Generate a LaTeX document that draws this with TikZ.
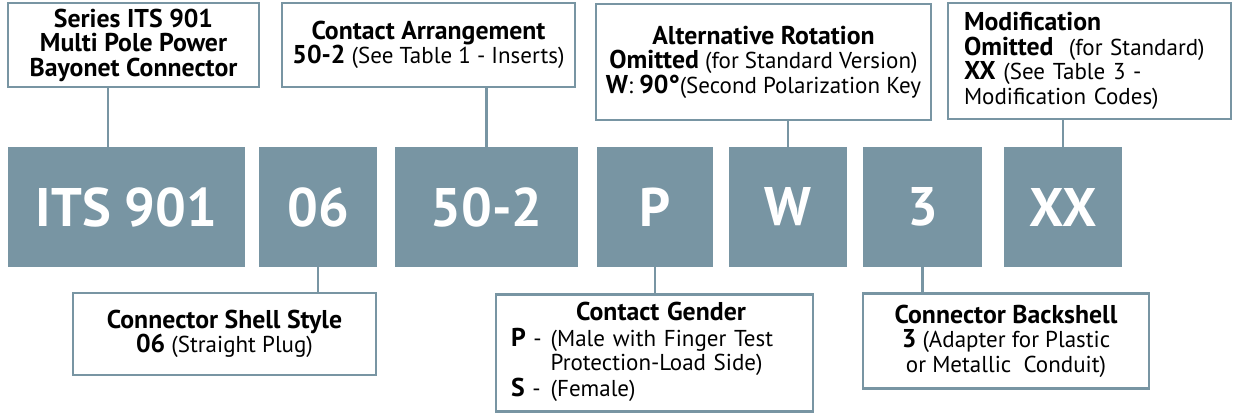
\documentclass[tikz,border=0pt]{standalone}
\usepackage{fontspec}
\setmainfont{PT Sans}[BoldFeatures={Scale=1.12}]
\definecolor{slate}{HTML}{7895A3}
\begin{document}
\begin{tikzpicture}[x=1pt, y=-1pt,
	code/.style={fill=slate, text=white, font=\fontsize{48.5}{52}\selectfont\bfseries, minimum height=120pt, inner sep=0pt},
	label/.style={draw=slate, line width=2.6pt, fill=white, font=\fontsize{23}{24.5}\selectfont, inner sep=0pt, align=center},
	link/.style={draw=slate, line width=2.4pt}]
	\useasboundingbox (0,0) rectangle (1233,413);

	% --- Code ---
	\node[code, minimum width=237pt] (its) at (126.5,207) {ITS 901};
	\node[code, minimum width=118pt] (shell) at (318,207) {06};
	\node[code, minimum width=183pt] (arr) at (486.5,207) {50-2};
	\node[code, minimum width=116pt] (gen) at (655,207) {P};
	\node[code, minimum width=118pt] (rot) at (788,207) {W};
	\node[code, minimum width=119pt] (back) at (922.5,207) {3};
	\node[code, minimum width=118pt] (mod) at (1063,207) {XX};

	% --- Labels above ---
	\node[label, minimum width=251pt, minimum height=84pt] (series) at (133.5,45)
		{\textbf{Series ITS 901}\\ \textbf{Multi Pole Power}\\ \textbf{Bayonet Connector}};
	\node[label, minimum width=293pt, minimum height=84pt] (arrangement) at (428.5,45)
		{\textbf{Contact Arrangement}\\ \textbf{50-2} (See Table 1 - Inserts)};
	\node[label, minimum width=335pt, minimum height=116pt] (rotation) at (763.5,62)
		{\textbf{Alternative Rotation}\\ \textbf{Omitted} (for Standard Version)\\ \textbf{W}: \textbf{90°}(Second Polarization Key};
	\node[label, align=left, text width=251pt, inner xsep=16pt, minimum height=116pt] (modification) at (1089.5,61)
		{\textbf{Modification}\\ \textbf{Omitted}\ \ (for Standard)\\ \textbf{XX} (See Table 3 -\\ Modification Codes)};

	% --- Labels below ---
	\node[label, minimum width=303pt, minimum height=82pt] (shellstyle) at (224.5,334)
		{\textbf{Connector Shell Style}\\ \textbf{06} (Straight Plug)};
	\node[label, align=left, text width=287pt, inner xsep=15pt, minimum height=117pt] (gender) at (654.5,353)
		{\begin{tabular}{@{}l@{\hspace{9pt}}l@{}}
			\multicolumn{2}{@{}c@{}}{\hspace{38pt}\textbf{Contact Gender}}\\
			\textbf{P} - & (Male with Finger Test\\
			& Protection-Load Side)\\
			\textbf{S} - & (Female)
		\end{tabular}};
	\node[label, minimum width=286pt, minimum height=95pt] (backshell) at (1006,341)
		{\textbf{Connector Backshell}\\ \textbf{3} (Adapter for Plastic\\ or Metallic\ \ Conduit)};

	% --- Links ---
	\draw[link] ([xshift=-18.5pt]its.north) -- ([xshift=-25.5pt]series.south);
	\draw[link] (arr.north) -- (arrangement.south -| arr.north);
	\draw[link] (rot.north) -- (rotation.south -| rot.north);
	\draw[link] (mod.north) -- (modification.south -| mod.north);
	\draw[link] (shell.south) -- (shellstyle.north -| shell.south);
	\draw[link] (gen.south) -- (gender.north -| gen.south);
	\draw[link] (back.south) -- (backshell.north -| back.south);
\end{tikzpicture}
\end{document}
